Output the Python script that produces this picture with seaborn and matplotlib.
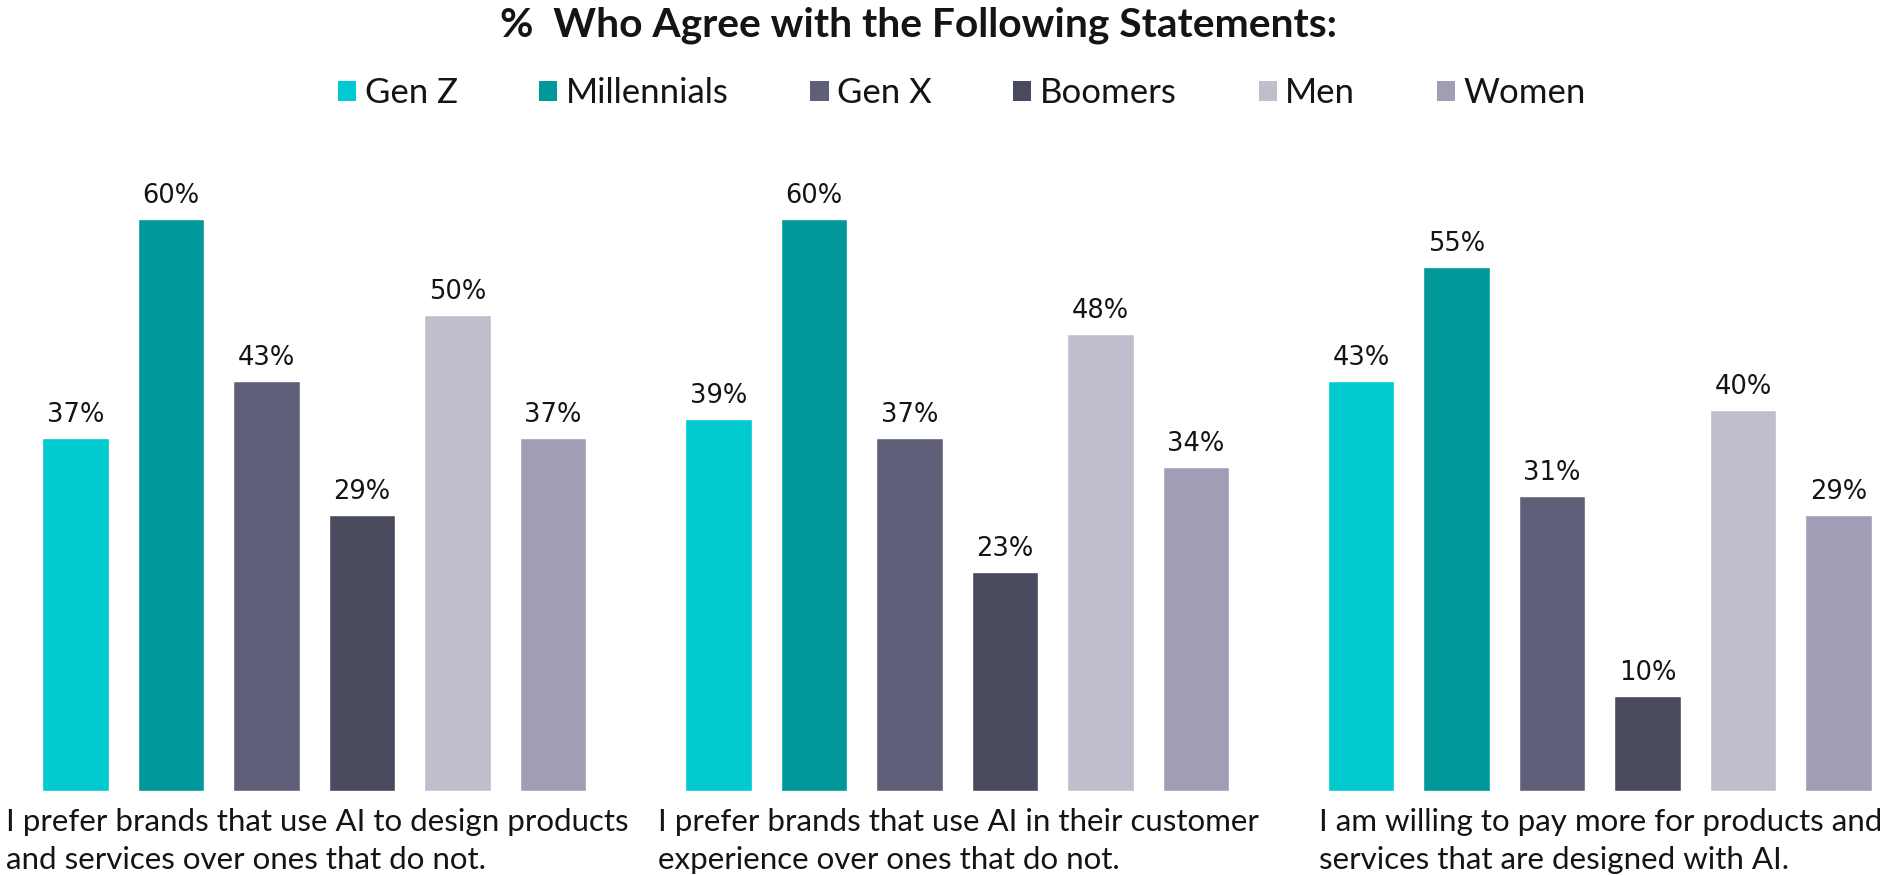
import matplotlib
matplotlib.use("Agg")
import matplotlib.pyplot as plt
from matplotlib.patches import Patch
import pandas as pd
import seaborn as sns

# ---- data -------------------------------------------------------------
title = "%  Who Agree with the Following Statements:"
segments = ["Gen Z", "Millennials", "Gen X", "Boomers", "Men", "Women"]
segment_colors = ["#00C9CF", "#009899", "#5F5F7A", "#4A4A5F", "#BFBECC", "#9F9EB4"]

statements = [
    "I prefer brands that use AI to design products\nand services over ones that do not.",
    "I prefer brands that use AI in their customer\nexperience over ones that do not.",
    "I am willing to pay more for products and\nservices that are designed with AI.",
]
design_with_ai = [37, 60, 43, 29, 50, 37]
ai_customer_experience = [39, 60, 37, 23, 48, 34]
pay_more_for_ai = [43, 55, 31, 10, 40, 29]
panel_values = [design_with_ai, ai_customer_experience, pay_more_for_ai]

# ---- style ------------------------------------------------------------
sns.set_theme(style="white")
plt.rcParams["font.family"] = ["Lato", "DejaVu Sans"]
TEXT = "#141414"

W, H = 1880, 875
fig = plt.figure(figsize=(W / 100, H / 100), dpi=100)
fig.patch.set_facecolor("white")

palette = dict(zip(segments, segment_colors))

# panel geometry in pixels
panel_left = [27.75, 670.75, 1313.25]
panel_width = 573
panel_bottom = 84
panel_height = 667
text_left = [6, 658, 1319]

for left, values, statement, tx in zip(panel_left, panel_values, statements, text_left):
    ax = fig.add_axes([left / W, panel_bottom / H, panel_width / W, panel_height / H])
    df = pd.DataFrame({"segment": segments, "pct": values})
    sns.barplot(data=df, x="segment", y="pct", hue="segment", palette=palette,
                saturation=1, width=0.7, legend=False, ax=ax)
    ax.set_xlim(-0.5, 5.5)
    ax.set_ylim(0, 70)
    ax.axis("off")
    for i, v in enumerate(values):
        ax.annotate(f"{v}%", xy=(i, v), xytext=(0, 11.5), textcoords="offset points",
                    ha="center", va="baseline", fontsize=18.5, color=TEXT,
                    family=["DejaVu Sans"])
    # statement caption under each panel (baseline of the last line)
    fig.text(tx / W, 1 - 869 / H, statement, ha="left", va="baseline",
             fontsize=22.5, linespacing=1.45, color=TEXT)

fig.text(918 / W, 1 - 36 / H, title, ha="center", va="baseline",
         fontsize=29.3, fontweight="bold", color=TEXT)

handles = [Patch(facecolor=c, edgecolor="none", label=s) for s, c in zip(segments, segment_colors)]
fig.legend(handles=handles, loc="center", bbox_to_anchor=(962 / W, 1 - 93 / H), ncol=6,
           frameon=False, handlelength=0.52, handleheight=0.52,
           handletextpad=0.25, columnspacing=2.35, labelcolor=TEXT,
           prop={"size": 25})

fig.savefig("out.png", dpi=100, facecolor="white")
